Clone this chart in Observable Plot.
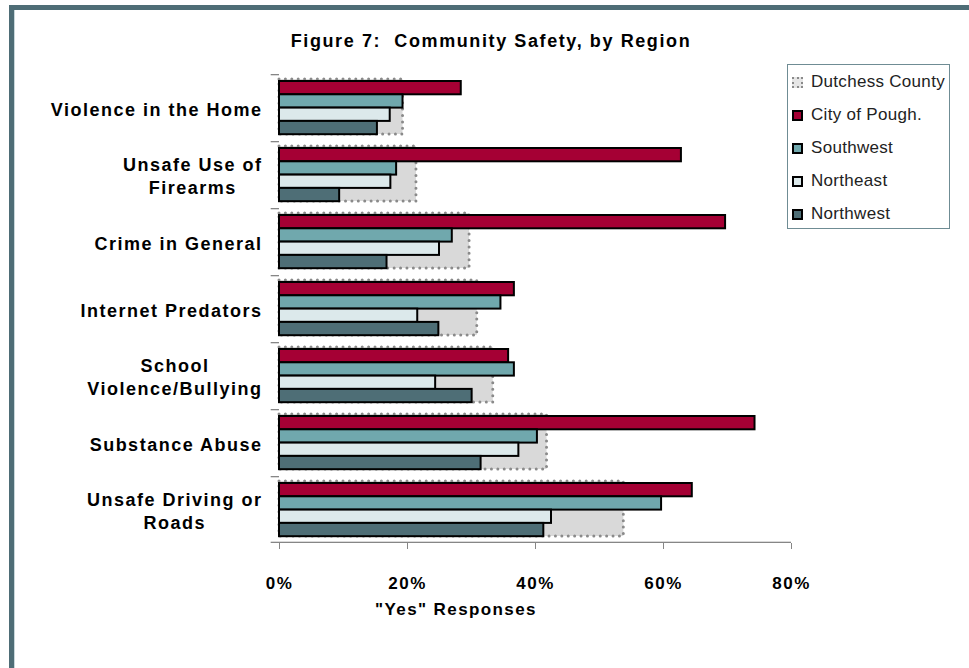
<!DOCTYPE html>
<html>
<head>
<meta charset="utf-8">
<script src="https://cdn.jsdelivr.net/npm/d3@7"></script>
<script src="https://cdn.jsdelivr.net/npm/@observablehq/plot@0.6"></script>
<style>
  body { margin: 0; background: #fff; }
  #wrap { position: relative; width: 969px; height: 668px; overflow: hidden; background: #fff; font-family: "Liberation Sans", Arial, sans-serif; }
  #chart { position: absolute; left: 0; top: 0; }
  .frameTop { position: absolute; left: 9px; top: 5px; width: 960px; height: 5px; background: #4e6d76; }
  .frameLeft { position: absolute; left: 9px; top: 5px; width: 5px; height: 663px; background: #4e6d76; }
  .frameLeftInner { position: absolute; left: 14px; top: 10px; width: 1px; height: 658px; background: #c9d8dc; }
  #title { position: absolute; left: 0; width: 982px; top: 31px; text-align: center; font-weight: bold; font-size: 18px; letter-spacing: 1.6px; color: #000; }
  #xtitle { position: absolute; left: 306px; width: 300px; top: 600px; text-align: center; font-weight: bold; font-size: 17px; letter-spacing: 1.4px; color: #000; }
  #legend { position: absolute; left: 787px; top: 64px; width: 163px; height: 165px; border: 1px solid #6f8c94; box-sizing: border-box; background: #fff; }
  .item { position: absolute; left: 4px; height: 20px; display: flex; align-items: center; font-size: 17px; letter-spacing: 0.3px; color: #222; white-space: nowrap; }
  .sw { width: 11px; height: 11px; box-sizing: border-box; border: 2px solid #000; margin-right: 8px; }
  .sw.dotted { border: 2.5px dotted #8a8a8a; background: #e6e6e6 !important; }
  #chart svg text { font-weight: bold; fill: #000; letter-spacing: 1.5px; }
</style>
</head>
<body>
<div id="wrap">
  <div id="chart"></div>
  <div class="frameTop"></div>
  <div class="frameLeft"></div>
  <div class="frameLeftInner"></div>
  <div id="title">Figure 7:&nbsp; Community Safety, by Region</div>
  <div id="xtitle">"Yes" Responses</div>
  <div id="legend"></div>
</div>
<script>
// ---- data ----
const categories = [
  "Violence in the Home",
  "Unsafe Use of\nFirearms",
  "Crime in General",
  "Internet Predators",
  "School\nViolence/Bullying",
  "Substance Abuse",
  "Unsafe Driving or\nRoads"
];
const seriesNames = ["Dutchess County", "City of Pough.", "Southwest", "Northeast", "Northwest"];
const seriesColors = ["#d9d9d9", "#a50034", "#70a8ad", "#dce9eb", "#4e6e76"];
const dutchessCounty = [19.3, 21.4, 29.7, 30.9, 33.4, 41.8, 53.8];
const cityOfPough    = [28.4, 62.8, 69.7, 36.7, 35.8, 74.3, 64.5];
const southwest      = [19.3, 18.3, 27.0, 34.6, 36.7, 40.3, 59.7];
const northeast      = [17.3, 17.4, 25.0, 21.6, 24.4, 37.4, 42.5];
const northwest      = [15.3,  9.4, 16.8, 24.9, 30.1, 31.5, 41.3];
const xTicks = [0, 20, 40, 60, 80];

const seriesValues = [dutchessCounty, cityOfPough, southwest, northeast, northwest];
const rowsFor = (k) => categories.map((c, i) => ({category: c, series: seriesNames[k], value: seriesValues[k][i]}));

// ---- layout ----
const W = 969, H = 668, mL = 279, mR = 178, mT = 74, mB = 125;
const band = (H - mT - mB) / categories.length;
const barH = 13.3, topGap = 7;

const regionMarks = [1, 2, 3, 4].map((k, j) =>
  Plot.barX(rowsFor(k), {
    y: "category", x: "value",
    fill: seriesColors[k], stroke: "#000", strokeWidth: 2,
    insetTop: topGap + j * barH,
    insetBottom: band - topGap - (j + 1) * barH
  })
);

const chart = Plot.plot({
  width: W, height: H,
  marginLeft: mL, marginRight: mR, marginTop: mT, marginBottom: mB,
  style: {fontFamily: "Liberation Sans, Arial, sans-serif", fontSize: "17px", background: "transparent", overflow: "visible"},
  y: {domain: categories, padding: 0, round: false, axis: null},
  x: {domain: [0, 80], ticks: xTicks, tickFormat: d => d + "%", tickSize: 6, tickPadding: 27, label: null, line: false},
  marks: [
    Plot.barX(rowsFor(0), {
      y: "category", x: "value",
      fill: seriesColors[0], stroke: "#8a8a8a", strokeWidth: 3,
      strokeDasharray: "0 6.4", strokeLinecap: "round",
      insetTop: 5, insetBottom: 7
    }),
    ...regionMarks,
    // y axis line
    Plot.ruleX(categories, {x: 0, y: d => d, stroke: "#868686", strokeWidth: 1.3}),
    // y boundary ticks (top of each band)
    Plot.barX(categories, {y: d => d, x1: -1.3, x2: 0, fill: "#868686", insetBottom: band - 1.3}),
    // x axis line (bottom of last band)
    Plot.barX(categories.slice(-1), {y: d => d, x1: -1.3, x2: 80, fill: "#868686", insetTop: band - 1.3}),
    // category labels
    Plot.text(categories, {
      y: d => d, text: d => d, frameAnchor: "left", dx: -17,
      textAnchor: "end", fontWeight: "bold", fontSize: 18, lineHeight: 1.3, fill: "#000"
    })
  ]
});
chart.querySelectorAll("g[aria-label*='x-axis'] line, g[aria-label*='x-axis'] path").forEach(el => el.setAttribute("stroke", "#868686"));
document.getElementById("chart").appendChild(chart);

// center lines of multi-line labels within their right-aligned block
chart.querySelectorAll('g[aria-label="text"] text').forEach(t => {
  const w = t.getBBox().width;
  t.setAttribute("text-anchor", "middle");
  t.setAttribute("transform", (t.getAttribute("transform") || "") + ` translate(${-w / 2},0)`);
});

// legend
const legend = document.getElementById("legend");
seriesNames.forEach((name, k) => {
  const item = document.createElement("div");
  item.className = "item";
  item.style.top = (7 + k * 33) + "px";
  const sw = document.createElement("span");
  sw.className = "sw" + (k === 0 ? " dotted" : "");
  sw.style.background = seriesColors[k];
  const label = document.createElement("span");
  label.textContent = name;
  item.appendChild(sw);
  item.appendChild(label);
  legend.appendChild(item);
});
</script>
</body>
</html>
